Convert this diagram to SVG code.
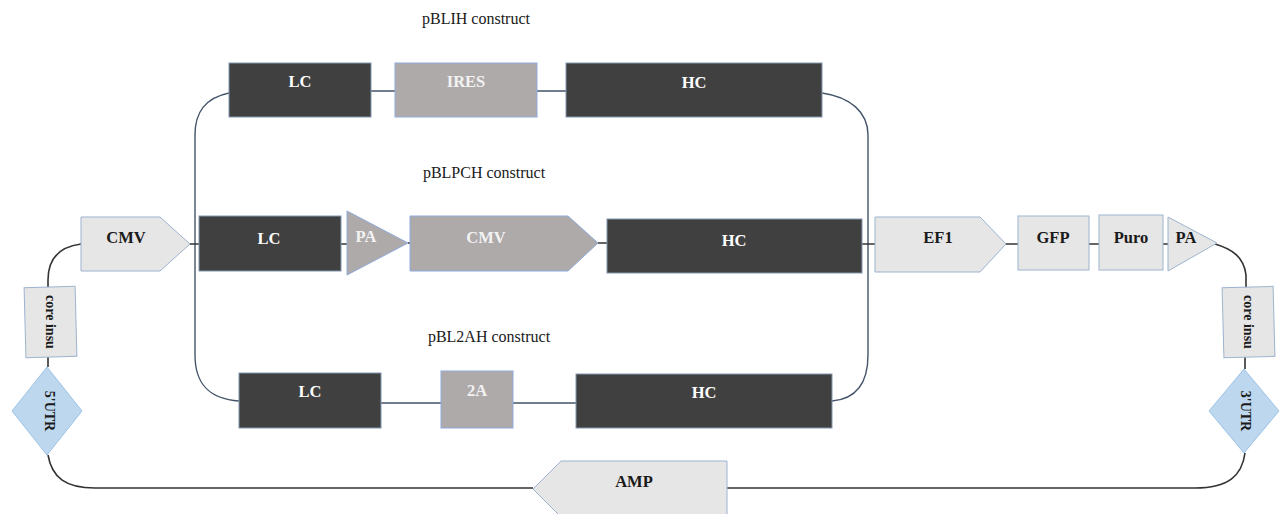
<svg xmlns="http://www.w3.org/2000/svg" width="1282" height="514" viewBox="0 0 1282 514">
<style>
.dark{fill:#404040;stroke:#8497b0;stroke-width:1}
.mid{fill:#aeaaaa;stroke:#8faadc;stroke-width:1}
.lite{fill:#e7e6e6;stroke:#9db3cf;stroke-width:1}
.utr{fill:#bdd7ee;stroke:#9dc3e6;stroke-width:1}
.t{font-family:"Liberation Serif","Times New Roman",serif;font-weight:bold;font-size:16.5px;text-anchor:middle}
.r{font-size:14px}
.w{fill:#ffffff}
.g{fill:#f2f2f2}
.k{fill:#1a1a1a}
.title{font-family:"Liberation Serif","Times New Roman",serif;font-size:16px;text-anchor:middle;fill:#1a1a1a}
.c{fill:none;stroke:#333333;stroke-width:1.6}
.b{fill:none;stroke:#44546a;stroke-width:1.4}
</style>
<rect width="1282" height="514" fill="#ffffff"/>
<g id="connectors">
<path class="b" d="M229,93 C205,98 195,112 195,135 L195,355 C195,385 210,399 239,401"/>
<path class="b" d="M822,93 C850,97 868,112 868,135 L868,355 C868,385 855,399 832,401"/>
<path class="b" d="M371,91 H395 M537,91 H566"/>
<path class="b" d="M381,403 H441 M513,403 H576"/>
<path class="c" d="M190,244 H199 M341,244 H347 M408,243 H410 M598,243 H607 M862,244 H875 M1006,244 H1018 M1089,244 H1099 M1163,244 H1168"/>
<path class="c" d="M81,244 C58,247 48,260 48,280 L48,288 M48,357 V367 M48,455 C52,478 66,488 95,488 L533,488 M727,488 H1195 C1228,488 1242,476 1245,453 M1245,369 V357 M1246,288 L1246,275 C1244,257 1232,249 1215,244"/>
</g>
<text class="title" x="476" y="24">pBLIH construct</text>
<text class="title" x="484" y="178">pBLPCH construct</text>
<text class="title" x="489" y="342">pBL2AH construct</text>
<g id="lc1"><rect class="dark" x="229" y="63" width="142" height="54"/><text class="t w" x="300" y="87">LC</text></g>
<g id="ires"><rect class="mid" x="395" y="63" width="142" height="54"/><text class="t g" x="466" y="87">IRES</text></g>
<g id="hc1"><rect class="dark" x="566" y="63" width="256" height="54"/><text class="t w" x="694" y="88">HC</text></g>
<g id="cmv_left"><polygon class="lite" points="81,217 160,217 190,244 160,271 81,271"/><text class="t k" x="126" y="243">CMV</text></g>
<g id="lc2"><rect class="dark" x="199" y="216" width="142" height="55"/><text class="t w" x="269" y="244">LC</text></g>
<g id="pa_mid"><polygon class="mid" points="347,211 408,243 347,275"/><text class="t g" x="366" y="242">PA</text></g>
<g id="cmv_mid"><polygon class="mid" points="410,216 568,216 598,243 568,271 410,271"/><text class="t g" x="486" y="243">CMV</text></g>
<g id="hc2"><rect class="dark" x="607" y="219" width="255" height="54"/><text class="t w" x="734" y="246">HC</text></g>
<g id="lc3"><rect class="dark" x="239" y="373" width="142" height="55"/><text class="t w" x="310" y="397">LC</text></g>
<g id="p2a"><rect class="mid" x="441" y="371" width="72" height="57"/><text class="t g" x="477" y="396">2A</text></g>
<g id="hc3"><rect class="dark" x="576" y="374" width="256" height="54"/><text class="t w" x="704" y="398">HC</text></g>
<g id="ef1"><polygon class="lite" points="875,217 980,217 1006,244 980,272 875,272"/><text class="t k" x="938" y="243">EF1</text></g>
<g id="gfp"><rect class="lite" x="1018" y="216" width="71" height="54"/><text class="t k" x="1053" y="243">GFP</text></g>
<g id="puro"><rect class="lite" x="1099" y="215" width="64" height="55"/><text class="t k" x="1131" y="243">Puro</text></g>
<g id="pa_right"><polygon class="lite" points="1168,217 1217,243 1168,271"/><text class="t k" x="1186" y="243">PA</text></g>
<g id="core_left"><rect class="lite" x="25" y="287" width="51" height="70" transform="rotate(-1.5 51 322)"/><text class="t k r" transform="translate(46 322) rotate(90)">core insu</text></g>
<g id="utr5"><polygon class="utr" points="47,367 82,411 47,455 12,411"/><text class="t k r" transform="translate(45 411) rotate(90)">5'UTR</text></g>
<g id="core_right"><rect class="lite" x="1223" y="287" width="51" height="70" transform="rotate(-1.5 1249 322)"/><text class="t k r" transform="translate(1244 322) rotate(90)">core insu</text></g>
<g id="utr3"><polygon class="utr" points="1244,369 1279,411 1244,453 1209,411"/><text class="t k r" transform="translate(1241 411) rotate(90)">3'UTR</text></g>
<g id="amp"><polygon class="lite" points="727,461 561,461 533,489 561,517 727,517"/><text class="t k" x="634" y="487">AMP</text></g>
</svg>
